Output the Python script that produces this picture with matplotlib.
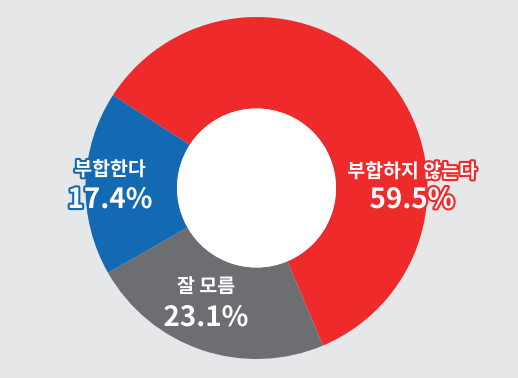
import matplotlib.pyplot as plt
import matplotlib.patheffects as pe

plt.rcParams['font.family'] = ['Noto Sans CJK KR', 'DejaVu Sans']

labels = ['부합하지 않는다', '잘 모름', '부합한다']
values = [59.5, 23.1, 17.4]
colors = ['#EE2A2B', '#6D6E71', '#1469B3']
label_pos = [(412, 172, 200), (206, 287, 318), (110, 170, 200)]

fig = plt.figure(figsize=(5.18, 3.78), dpi=100)
fig.patch.set_facecolor('#E6E7E8')
ax = fig.add_axes([0, 0, 1, 1])
ax.axis('off')

# 도넛 + 가운데 흰 원
ax.pie(values, colors=colors, startangle=147.1, counterclock=False,
       center=(256.5, 378 - 188), radius=171,
       wedgeprops=dict(width=171 - 79.5, linewidth=0))
ax.add_patch(plt.Circle((256.5, 378 - 188), 79.5, color='white', lw=0))
ax.set_xlim(0, 518)
ax.set_ylim(0, 378)
ax.set_aspect('equal')

for lab, v, c, (x, y1, y2) in zip(labels, values, colors, label_pos):
    fx = [pe.withStroke(linewidth=3, foreground=c)]
    ax.text(x, 378 - y1, lab, ha='center', va='center', fontsize=14,
            fontweight='bold', color='white', path_effects=fx)
    ax.text(x, 378 - y2, f'{v}%', ha='center', va='center', fontsize=20,
            fontweight='bold', color='white', path_effects=fx)

fig.savefig('out.png', dpi=100, facecolor=fig.get_facecolor())
